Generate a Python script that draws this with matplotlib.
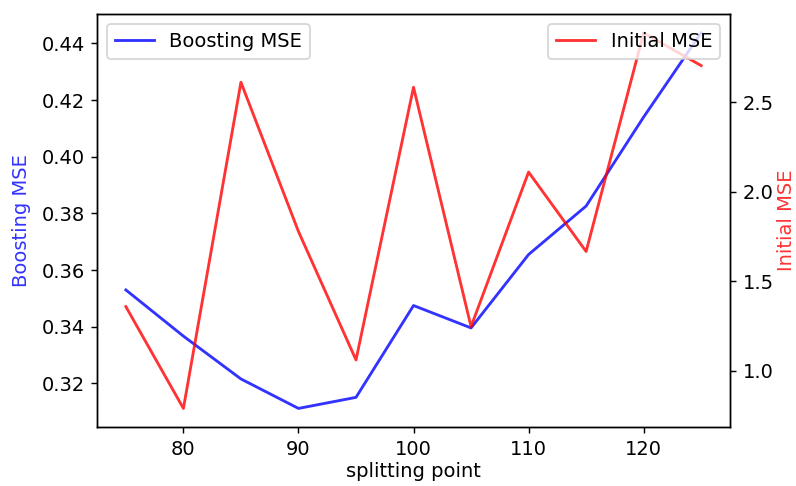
import matplotlib
matplotlib.use("Agg")
import matplotlib.pyplot as plt

plt.rcParams["font.size"] = 11

splitting_points = [75, 80, 85, 90, 95, 100, 105, 110, 115, 120, 125]
boosting_mse = [0.353, 0.3367, 0.3216, 0.3112, 0.3151, 0.3475, 0.3396, 0.3655, 0.3826, 0.414, 0.4437]
initial_mse = [1.358, 0.789, 2.612, 1.778, 1.06, 2.584, 1.246, 2.11, 1.666, 2.888, 2.705]

fig = plt.figure(figsize=(796 / 128, 486 / 128), dpi=128)
ax = fig.add_axes([0.122, 0.121, 0.795, 0.850])
ax.plot(splitting_points, boosting_mse, color="blue", alpha=0.8, lw=1.6, label="Boosting MSE")
ax.set_xlabel("splitting point", labelpad=2)
ax.set_ylabel("Boosting MSE", color="blue", alpha=0.8, labelpad=6)
ax.legend(loc="upper left")

ax2 = ax.twinx()
ax2.plot(splitting_points, initial_mse, color="red", alpha=0.8, lw=1.6, label="Initial MSE")
ax2.set_ylabel("Initial MSE", color="red", alpha=0.8, labelpad=2)
ax2.legend(loc="upper right")

fig.savefig("out.png", dpi=128)
